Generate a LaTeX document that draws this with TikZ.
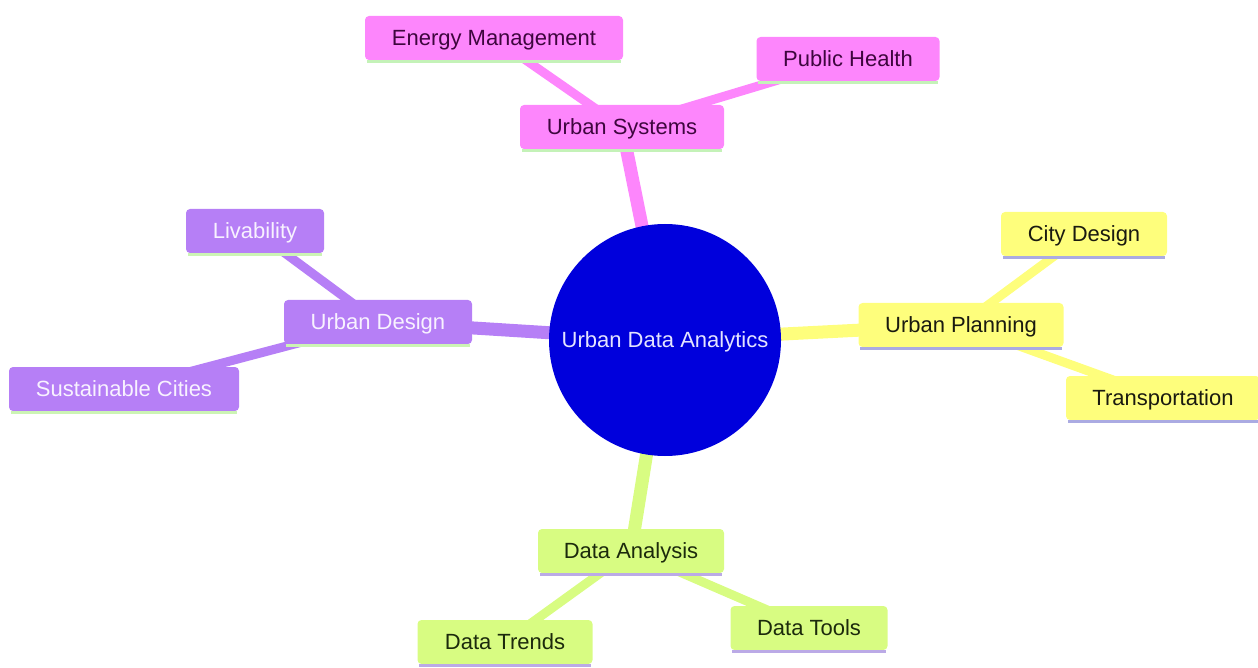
\documentclass[tikz,border=0pt]{standalone}
\usepackage{fontspec}
\setmainfont{Liberation Sans}
\definecolor{pinkF}{HTML}{FD86FC}
\definecolor{purpF}{HTML}{B67FF6}
\definecolor{yellF}{HTML}{FEFE7C}
\definecolor{grenF}{HTML}{D8FC82}
\definecolor{pinkL}{HTML}{C4F2B8}
\definecolor{purpL}{HTML}{CCF4B4}
\definecolor{yellL}{HTML}{ABABE2}
\definecolor{grenL}{HTML}{BBAAE6}
\definecolor{pinkT}{HTML}{3E063E}
\definecolor{purpT}{HTML}{F8F2FF}
\definecolor{yellT}{HTML}{1A1A10}
\definecolor{grenT}{HTML}{1C2A0C}
\definecolor{rootF}{HTML}{0000DC}
\definecolor{rootT}{HTML}{E4E4FF}
\begin{document}
\begin{tikzpicture}[x=1pt,y=-1pt,
  txt/.style={font=\fontsize{22}{26}\selectfont, text height=15.7pt, text depth=0pt},
  box/.style={txt, rounded corners=4pt, minimum height=44pt, inner sep=0pt},
  pinkbox/.style={box, fill=pinkF, text=pinkT},
  purpbox/.style={box, fill=purpF, text=purpT},
  yellbox/.style={box, fill=yellF, text=yellT},
  grenbox/.style={box, fill=grenF, text=grenT},
  lvone/.style={line width=13pt},
  lvtwo/.style={line width=9pt},
  uline/.style={line width=3pt}
]
\useasboundingbox (0,0) rectangle (1258,668);
% coordinates for layout
\coordinate (cR) at (665,340);
\coordinate (cUS) at (622,127);
\coordinate (cEM) at (494,38);
\coordinate (cPH) at (848,59);
\coordinate (cUD) at (378,322);
\coordinate (cLV) at (255,231);
\coordinate (cSC) at (124,389);
\coordinate (cUP) at (961,325);
\coordinate (cCD) at (1084,234);
\coordinate (cTR) at (1163,398);
\coordinate (cDA) at (631,551);
\coordinate (cDT) at (505,642);
\coordinate (cDO) at (809,628);
% edges
\draw[lvone, pinkF] (cR) -- (cUS);
\draw[lvone, purpF] (cR) -- (cUD);
\draw[lvone, yellF] (cR) -- (cUP);
\draw[lvone, grenF] (cR) -- (cDA);
\draw[lvtwo, pinkF] (cUS) -- (cEM);
\draw[lvtwo, pinkF] (cUS) -- (cPH);
\draw[lvtwo, purpF] (cUD) -- (cLV);
\draw[lvtwo, purpF] (cUD) -- (cSC);
\draw[lvtwo, yellF] (cUP) -- (cCD);
\draw[lvtwo, yellF] (cUP) -- (cTR);
\draw[lvtwo, grenF] (cDA) -- (cDT);
\draw[lvtwo, grenF] (cDA) -- (cDO);
% root
\node[txt, circle, fill=rootF, minimum size=232pt, inner sep=0pt, text=rootT] (root) at (cR) {Urban Data Analytics};
% boxes
\node[pinkbox, minimum width=204pt] (us) at (cUS) {Urban Systems};
\node[pinkbox, minimum width=258pt] (em) at (cEM) {Energy Management};
\node[pinkbox, minimum width=183pt] (ph) at (cPH) {Public Health};
\node[purpbox, minimum width=188pt] (ud) at (cUD) {Urban Design};
\node[purpbox, minimum width=138pt] (lv) at (cLV) {Livability};
\node[purpbox, minimum width=230pt] (sc) at (cSC) {Sustainable Cities};
\node[yellbox, minimum width=205pt] (up) at (cUP) {Urban Planning};
\node[yellbox, minimum width=166pt] (cd) at (cCD) {City Design};
\node[yellbox, minimum width=194pt] (tr) at (cTR) {Transportation};
\node[grenbox, minimum width=186pt] (da) at (cDA) {Data Analysis};
\node[grenbox, minimum width=175pt] (dt) at (cDT) {Data Trends};
\node[grenbox, minimum width=157pt] (do) at (cDO) {Data Tools};
% bottom lines
\foreach \n/\c in {us/pinkL, em/pinkL, ph/pinkL, ud/purpL, lv/purpL, sc/purpL,
                   up/yellL, cd/yellL, tr/yellL, da/grenL, dt/grenL, do/grenL}{
  \draw[uline, \c] ([xshift=2pt,yshift=-1.5pt]\n.south west) -- ([xshift=-2pt,yshift=-1.5pt]\n.south east);
}
\end{tikzpicture}
\end{document}
